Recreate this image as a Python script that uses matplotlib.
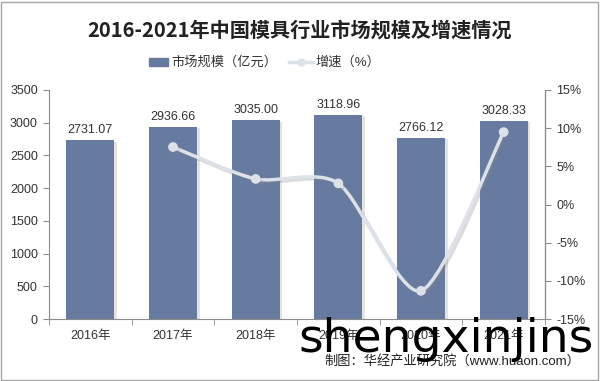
import numpy as np
import matplotlib.pyplot as plt
from matplotlib.path import Path
from matplotlib.patches import PathPatch, Rectangle
import matplotlib.patheffects as pe

years = ["2016年", "2017年", "2018年", "2019年", "2020年", "2021年"]
market = [2731.07, 2936.66, 3035.00, 3118.96, 2766.12, 3028.33]
growth_years = [1, 2, 3, 4, 5]
growth = [7.53, 3.35, 2.77, -11.31, 9.48]

plt.rcParams['font.family'] = ['Liberation Sans', 'Noto Sans CJK SC']

bar_color = "#677A9F"
line_color = "#DCE1EA"
axis_color = "#8C8C8C"


def smooth_path(xs, ys, k=0.13):
    # Excel-like smoothed line built as cubic bezier segments
    verts = [(xs[0], ys[0])]
    codes = [Path.MOVETO]
    n = len(xs)
    for i in range(n - 1):
        x0, y0 = xs[max(i - 1, 0)], ys[max(i - 1, 0)]
        x1, y1 = xs[i], ys[i]
        x2, y2 = xs[i + 1], ys[i + 1]
        x3, y3 = xs[min(i + 2, n - 1)], ys[min(i + 2, n - 1)]
        c1 = (x1 + k * (x2 - x0), y1 + k * (y2 - y0))
        c2 = (x2 - k * (x3 - x1), y2 - k * (y3 - y1))
        verts += [c1, c2, (x2, y2)]
        codes += [Path.CURVE4] * 3
    return Path(verts, codes)


fig = plt.figure(figsize=(6, 3.81), dpi=100)
ax = fig.add_axes([49 / 600, 1 - 319 / 381, (545 - 49) / 600, (319 - 90) / 381])
ax2 = ax.twinx()

x = np.arange(len(years))
ax.bar(x, market, width=0.58, color=bar_color, zorder=2,
       path_effects=[pe.SimplePatchShadow(offset=(2, -1), shadow_rgbFace="#B0B0B0", alpha=0.35),
                     pe.Normal()])
for xi, v in zip(x, market):
    ax.text(xi, v + 60, f"{v:.2f}", ha="center", va="bottom", fontsize=9, color="#333333")

ax.set_xlim(-0.5, len(years) - 0.5)
ax.set_ylim(0, 3500)
ax.set_yticks(np.arange(0, 3501, 500))
ax.set_xticks(x)
ax.set_xticklabels(years, fontsize=9, color="#333333")
ax.set_xticks(np.arange(-0.5, len(years), 1), minor=True)
ax.tick_params(axis="x", which="major", length=0, pad=8)
ax.tick_params(axis="x", which="minor", length=4, color=axis_color)
ax.tick_params(axis="y", labelsize=9, colors="#333333", length=4, color=axis_color, pad=4)
ax.spines["top"].set_visible(False)
ax2.spines["top"].set_visible(False)
for s in ["left", "bottom"]:
    ax.spines[s].set_color(axis_color)
ax2.spines["left"].set_visible(False)
ax2.spines["bottom"].set_visible(False)
ax2.spines["right"].set_color(axis_color)

ax2.set_ylim(-15, 15)
ax2.set_yticks(np.arange(-15, 16, 5))
ax2.set_yticklabels([f"{t}%" for t in range(-15, 16, 5)])
ax2.tick_params(axis="y", labelsize=9, colors="#333333", length=4, color=axis_color, pad=4)

path = smooth_path(growth_years, growth)
shadow = [pe.SimpleLineShadow(offset=(1.5, -1.5), shadow_color="#888888", alpha=0.3), pe.Normal()]
ax2.add_patch(PathPatch(path, facecolor="none", edgecolor=line_color, lw=2.5, zorder=3,
                        path_effects=shadow))
ax2.plot(growth_years, growth, "o", color=line_color, ms=6, zorder=4, path_effects=shadow)

fig.text(0.5, 1 - 30 / 381, "2016-2021年中国模具行业市场规模及增速情况", ha="center", va="center",
         fontsize=14.5, fontweight="bold", color="#222222", family=["Noto Sans CJK SC"])

# legend
fig.patches.append(Rectangle((149 / 600, 1 - 65.5 / 381), 19 / 600, 7 / 381, transform=fig.transFigure,
                             color=bar_color))
fig.text(171 / 600, 1 - 62 / 381, "市场规模（亿元）", va="center", fontsize=9.5, color="#333333")
fig.lines.append(plt.Line2D([289 / 600, 313 / 600], [1 - 62 / 381] * 2, transform=fig.transFigure,
                            color=line_color, lw=2.5))
fig.lines.append(plt.Line2D([301 / 600], [1 - 62 / 381], transform=fig.transFigure,
                            color=line_color, marker="o", ms=5))
fig.text(315 / 600, 1 - 62 / 381, "增速（%）", va="center", fontsize=9.5, color="#333333")

fig.text(452 / 600, 1 - 361 / 381, "制图：华经产业研究院（www.huaon.com）", ha="center", va="center",
         fontsize=9.5, color="#222222")
fig.text(446 / 600, 1 - 340 / 381, "shengxinjins", ha="center", va="center", fontsize=34,
         color="black", family=["DejaVu Sans"])

fig.patches.append(Rectangle((1 / 600, 1 / 381), 597 / 600, 378 / 381, transform=fig.transFigure,
                             fill=False, edgecolor="#A6A6A6", lw=1))

fig.savefig("out.png", dpi=100)
